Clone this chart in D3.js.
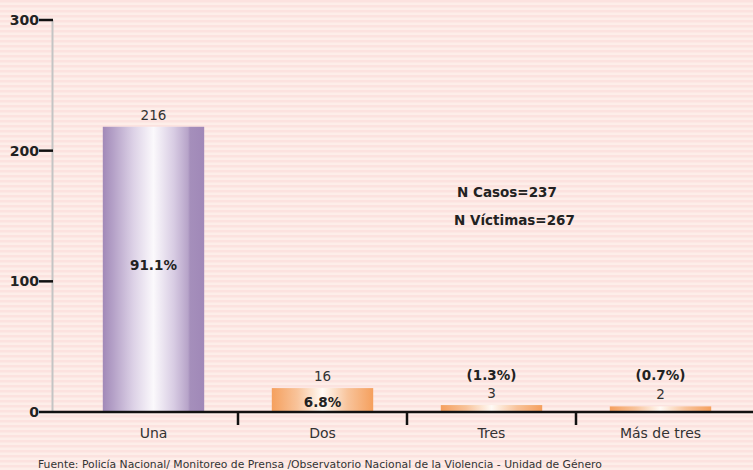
<!DOCTYPE html>
<html>
<head>
  <meta charset="utf-8">
  <style>
    body { margin: 0; padding: 0; overflow: hidden; }
    svg { display: block; font-family: "DejaVu Sans", Verdana, sans-serif; }
  </style>
</head>
<body>
  <svg></svg>
  <script src="https://d3js.org/d3.v7.min.js"></script>
  <script>
    let width = 753, height = 470;

    // chart data
    const categories = ["Una", "Dos", "Tres", "Más de tres"];
    const counts = [216, 16, 3, 2];
    const percents = ["91.1%", "6.8%", "(1.3%)", "(0.7%)"];
    const yTicks = [0, 100, 200, 300];
    const notes = ["N Casos=237", "N Víctimas=267"];
    const source = "Fuente: Policía Nacional/ Monitoreo de Prensa /Observatorio Nacional de la Violencia - Unidad de Género";

    let svg = d3.select("svg")
        .attr("width", width)
        .attr("height", height);

    // striped pink background
    let defs = svg.append("defs");
    let stripes = defs.append("pattern")
        .attr("id", "stripes")
        .attr("patternUnits", "userSpaceOnUse")
        .attr("width", 10).attr("height", 5);
    stripes.append("rect").attr("width", 10).attr("height", 5).attr("fill", "#fdeee9");
    stripes.append("rect").attr("width", 10).attr("height", 2.5).attr("fill", "#fce2df");
    svg.append("rect").attr("width", width).attr("height", height).attr("fill", "url(#stripes)");

    // bar gradients (cylinder look)
    function gradient(id, stops) {
      let g = defs.append("linearGradient").attr("id", id)
          .attr("x1", "0%").attr("x2", "100%").attr("y1", "0%").attr("y2", "0%");
      stops.forEach(s => g.append("stop").attr("offset", s[0]).attr("stop-color", s[1]));
    }
    gradient("purple", [["0%", "#a189b8"], ["10%", "#b4a0c7"], ["30%", "#dcd1e6"], ["50%", "#fbf9fc"],
                        ["70%", "#d8cce3"], ["84%", "#b7a4c9"], ["86%", "#a58fbb"], ["100%", "#a088b8"]]);
    gradient("orange", [["0%", "#f5a05e"], ["25%", "#f8c39a"], ["50%", "#fffaf5"],
                        ["75%", "#f8c39a"], ["100%", "#f5a05e"]]);

    let x = d3.scaleBand()
        .domain(categories)
        .range([69, 745])
        .paddingInner(0.4)
        .paddingOuter(0.2);

    let y = d3.scaleLinear()
        .domain([0, 300])
        .range([412, 20]);

    // y axis
    svg.append("line")
        .attr("x1", 52.5).attr("x2", 52.5)
        .attr("y1", y(300)).attr("y2", y(0))
        .attr("stroke", "#c4c4c4").attr("stroke-width", 2);

    let yAxis = svg.append("g");
    yAxis.selectAll("line")
        .data(yTicks)
        .enter().append("line")
        .attr("x1", 39).attr("x2", 53)
        .attr("y1", d => y(d)).attr("y2", d => y(d))
        .attr("stroke", "#111").attr("stroke-width", 2.5);
    yAxis.selectAll("text")
        .data(yTicks)
        .enter().append("text")
        .attr("x", 39).attr("y", d => y(d) + 5)
        .attr("text-anchor", "end")
        .attr("font-size", 14).attr("font-weight", "bold")
        .attr("fill", "#222")
        .text(d => d);

    // bars
    svg.append("g").selectAll("rect")
        .data(counts)
        .enter().append("rect")
        .attr("x", (d, i) => x(categories[i]))
        .attr("width", x.bandwidth())
        .attr("y", d => y(d) - 3)
        .attr("height", d => y(0) - y(d) + 2)
        .attr("fill", (d, i) => i == 0 ? "url(#purple)" : "url(#orange)");

    // x axis
    svg.append("line")
        .attr("x1", 53).attr("x2", width)
        .attr("y1", y(0)).attr("y2", y(0))
        .attr("stroke", "#111").attr("stroke-width", 2.5);

    svg.append("g").selectAll("line")
        .data(categories.slice(1))
        .enter().append("line")
        .attr("x1", d => x(d) - x.step() * 0.2)
        .attr("x2", d => x(d) - x.step() * 0.2)
        .attr("y1", y(0)).attr("y2", y(0) + 13)
        .attr("stroke", "#111").attr("stroke-width", 2.5);

    svg.append("g").selectAll("text")
        .data(categories)
        .enter().append("text")
        .attr("x", d => x(d) + x.bandwidth() / 2)
        .attr("y", 438)
        .attr("text-anchor", "middle")
        .attr("font-size", 14)
        .attr("fill", "#333")
        .text(d => d);

    // value labels
    svg.append("g").selectAll("text")
        .data(counts)
        .enter().append("text")
        .attr("x", (d, i) => x(categories[i]) + x.bandwidth() / 2)
        .attr("y", d => y(d) - 10)
        .attr("text-anchor", "middle")
        .attr("font-size", 13.5)
        .attr("fill", "#333")
        .text(d => d);

    // percent labels
    let pctY = [265, 402, 375, 375];
    svg.append("g").selectAll("text")
        .data(percents)
        .enter().append("text")
        .attr("x", (d, i) => x(categories[i]) + x.bandwidth() / 2)
        .attr("y", (d, i) => pctY[i] + 5)
        .attr("text-anchor", "middle")
        .attr("font-size", 13.5).attr("font-weight", "bold")
        .attr("fill", "#222")
        .text(d => d);

    // notes
    svg.append("g").selectAll("text")
        .data(notes)
        .enter().append("text")
        .attr("x", (d, i) => i == 0 ? 457 : 454)
        .attr("y", (d, i) => 197 + i * 28)
        .attr("font-size", 13.5).attr("font-weight", "bold")
        .attr("fill", "#222")
        .text(d => d);

    // source
    svg.append("text")
        .attr("x", 38).attr("y", 468)
        .attr("font-size", 10.8)
        .attr("fill", "#333")
        .text(source);
  </script>
</body>
</html>
